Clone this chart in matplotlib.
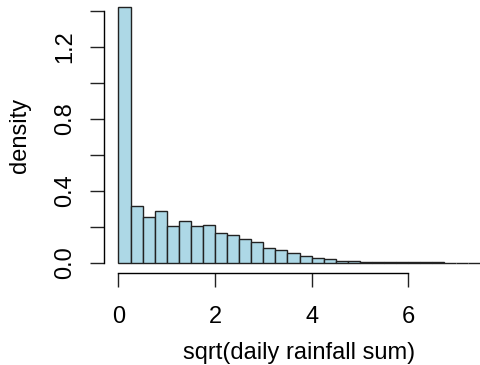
import matplotlib
matplotlib.use("Agg")
import matplotlib.pyplot as plt
import numpy as np

# histogram of sqrt(daily rainfall sum), bins of width 0.25 starting at 0
bin_edges = [0.25 * i for i in range(32)]
densities = [1.42, 0.317, 0.252, 0.285, 0.206, 0.230, 0.202, 0.207,
             0.165, 0.156, 0.133, 0.115, 0.082, 0.072, 0.053, 0.037,
             0.028, 0.018, 0.012, 0.008, 0.006, 0.004, 0.004, 0.003,
             0.002, 0.002, 0.0015, 0.001, 0.001, 0.001, 0.001]
x_ticks = [0, 2, 4, 6]
y_ticks = [0.0, 0.2, 0.4, 0.6, 0.8, 1.0, 1.2, 1.4]
y_labels = ["0.0", "", "0.4", "", "0.8", "", "1.2", ""]

plt.rcParams['font.family'] = ['Liberation Sans', 'DejaVu Sans']

fig = plt.figure(figsize=(4.8, 3.65), dpi=100)
W, H = 480, 365
left, right, bottom, top = 104, 495, 273, -3
ax = fig.add_axes([left / W, (H - bottom) / H, (right - left) / W, (bottom - top) / H])

edges = np.array(bin_edges)
ax.bar(edges[:-1], densities, width=np.diff(edges), align='edge',
       color='#add8e6', edgecolor='#222222', linewidth=1.0)

ax.set_xlim(-0.30, 7.8)
ax.set_ylim(-0.057, 1.476)

for s in ['top', 'right']:
    ax.spines[s].set_visible(False)
ax.spines['left'].set_bounds(0, 1.4)
ax.spines['bottom'].set_bounds(0, 6)
ax.spines['left'].set_linewidth(1.0)
ax.spines['bottom'].set_linewidth(1.0)

ax.set_xticks(x_ticks)
ax.set_xticklabels([str(t) for t in x_ticks])
ax.set_yticks(y_ticks)
ax.set_yticklabels(y_labels, rotation=90, va='center')
ax.tick_params(axis='both', direction='out', length=10, width=1.0,
               labelsize=17, color='#222222')
ax.tick_params(axis='x', pad=14)
ax.tick_params(axis='y', pad=10)

ax.set_xlabel('sqrt(daily rainfall sum)', fontsize=17, labelpad=10)
ax.set_ylabel('density', fontsize=17, labelpad=17)

fig.savefig('out.png', dpi=100)
